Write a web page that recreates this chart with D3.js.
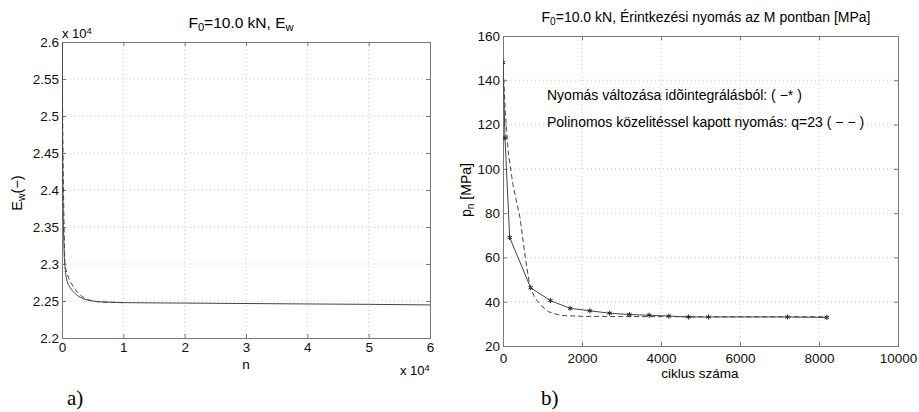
<!DOCTYPE html>
<html>
<head>
<meta charset="utf-8">
<script src="https://cdn.jsdelivr.net/npm/d3@7"></script>
<style>
  body { margin: 0; background: #fff; }
  svg { font-family: "Liberation Sans", Arial, sans-serif; }
</style>
</head>
<body>
<svg id="chart" width="919" height="412"></svg>
<script>
// ---- data: panel a) E_w vs n ----
let ewTicksX = [0, 10000, 20000, 30000, 40000, 50000, 60000]
let ewTicksY = [22000, 22500, 23000, 23500, 24000, 24500, 25000, 25500, 26000]
let ewSolidN = [0, 150, 300, 500, 800, 1200, 1800, 2500, 3500, 4600, 6000, 8000, 10000, 20000, 30000, 40000, 50000, 60000]
let ewSolidV = [26200, 24000, 23300, 22950, 22780, 22700, 22630, 22575, 22530, 22505, 22490, 22485, 22478, 22472, 22466, 22460, 22455, 22447]
let ewDashN = [0, 150, 300, 490, 800, 1200, 1800, 2500, 3300, 4200, 5200, 6500, 8000, 10000]
let ewDashV = [26200, 24600, 23700, 23000, 22880, 22790, 22700, 22620, 22560, 22520, 22498, 22485, 22480, 22478]

// ---- data: panel b) p_n vs cycles ----
let pTicksX = [0, 2000, 4000, 6000, 8000, 10000]
let pTicksY = [20, 40, 60, 80, 100, 120, 140, 160]
let pStarC = [0, 50, 170, 700, 1200, 1700, 2200, 2700, 3200, 3700, 4200, 4700, 5200, 7200, 8200]
let pStarV = [148, 114, 69, 46.3, 40.5, 37.0, 35.9, 34.8, 34.2, 33.9, 33.5, 33.1, 33.1, 33.1, 32.9]
let pDashC = [0, 60, 130, 250, 430, 580, 680, 800, 950, 1150, 1450, 2000, 3000, 5000, 8200]
let pDashV = [148, 125, 108, 93, 78, 58, 47, 42, 38.5, 35.5, 33.8, 33.4, 33.3, 33.2, 33.2]

let svg = d3.select("#chart")
let lineCol = "#444"
let boxCol = "#777"
let tickFs = 13.5

function drawPanel(cfg) {
    let X = d3.scaleLinear().domain(cfg.xDomain).range([cfg.x0, cfg.x1])
    let Y = d3.scaleLinear().domain(cfg.yDomain).range([cfg.y1, cfg.y0])
    let g = svg.append("g")

    // grid
    g.selectAll(".gx").data(cfg.xTicks.slice(1, -1)).enter().append("line")
     .attr("x1", d => X(d)).attr("x2", d => X(d))
     .attr("y1", cfg.y0).attr("y2", cfg.y1)
     .attr("stroke", "#bbb").attr("stroke-width", 0.8).attr("stroke-dasharray", "1,3")
    g.selectAll(".gy").data(cfg.yTicks.slice(1, -1)).enter().append("line")
     .attr("y1", d => Y(d)).attr("y2", d => Y(d))
     .attr("x1", cfg.x0).attr("x2", cfg.x1)
     .attr("stroke", "#bbb").attr("stroke-width", 0.8).attr("stroke-dasharray", "1,3")

    // axes (ticks inward, mirrored)
    g.append("g").attr("transform", `translate(0,${cfg.y1})`)
     .call(d3.axisBottom(X).tickValues(cfg.xTicks).tickSize(-4).tickPadding(cfg.padX).tickFormat(cfg.fmtX))
    g.append("g").attr("transform", `translate(0,${cfg.y0})`)
     .call(d3.axisTop(X).tickValues(cfg.xTicks).tickSize(-4).tickFormat(""))
    g.append("g").attr("transform", `translate(${cfg.x0},0)`)
     .call(d3.axisLeft(Y).tickValues(cfg.yTicks).tickSize(-4).tickPadding(3).tickFormat(cfg.fmtY))
    g.append("g").attr("transform", `translate(${cfg.x1},0)`)
     .call(d3.axisRight(Y).tickValues(cfg.yTicks).tickSize(-4).tickFormat(""))
    g.selectAll(".domain").attr("stroke", boxCol)
    g.selectAll(".tick line").attr("stroke", boxCol)
    g.selectAll(".tick text").attr("fill", "#111").style("font-size", tickFs + "px")
     .style("font-family", "'Liberation Sans', Arial, sans-serif")

    // clip
    let clipId = "clip" + cfg.id
    svg.append("clipPath").attr("id", clipId).append("rect")
       .attr("x", cfg.x0).attr("y", cfg.y0).attr("width", cfg.x1 - cfg.x0).attr("height", cfg.y1 - cfg.y0)
    let plot = g.append("g").attr("clip-path", `url(#${clipId})`)
    let line = d3.line().x(d => X(d[0])).y(d => Y(d[1])).curve(cfg.curve || d3.curveLinear)
    cfg.series.forEach(s => {
        plot.append("path")
            .attr("d", line(s.data))
            .attr("fill", "none")
            .attr("stroke", lineCol)
            .attr("stroke-width", 1)
            .attr("stroke-dasharray", s.dash ? "5,3" : null)
        if (s.stars) {
            plot.selectAll(null).data(s.data).enter().append("path")
                .attr("transform", d => `translate(${X(d[0])},${Y(d[1])})`)
                .attr("d", d3.symbol(d3.symbolAsterisk, 18))
                .attr("fill", "none").attr("stroke", "#222").attr("stroke-width", 1)
        }
    })
    return {X, Y}
}

let zip = (a, b) => a.map((d, i) => [d, b[i]])

// ---- panel a) ----
drawPanel({
    id: "a", x0: 62, x1: 430, y0: 42, y1: 338, padX: 4,
    xDomain: [0, 60000], yDomain: [22000, 26000],
    xTicks: ewTicksX, yTicks: ewTicksY,
    fmtX: d => d / 10000, fmtY: d => d / 10000,
    curve: d3.curveMonotoneX,
    series: [
        {data: zip(ewSolidN, ewSolidV)},
        {data: zip(ewDashN, ewDashV), dash: true}
    ]
})

// ---- panel b) ----
drawPanel({
    id: "b", x0: 503, x1: 898, y0: 36, y1: 346, padX: 7,
    xDomain: [0, 10000], yDomain: [20, 160],
    xTicks: pTicksX, yTicks: pTicksY,
    fmtX: d => d, fmtY: d => d,
    series: [
        {data: zip(pStarC, pStarV), stars: true},
        {data: zip(pDashC, pDashV), dash: true}
    ]
})

// ---- texts ----
function sub(t, parts, fs) {
    t.style("font-size", fs + "px")
    parts.forEach(p => {
        let ts = t.append("tspan").text(p.t)
        if (p.sub) ts.attr("baseline-shift", "-30%").style("font-size", (fs * 0.72) + "px")
        if (p.sup) ts.attr("baseline-shift", "45%").style("font-size", (fs * 0.72) + "px")
    })
    return t
}

sub(svg.append("text").attr("x", 241).attr("y", 28).attr("text-anchor", "middle"),
    [{t: "F"}, {t: "0", sub: true}, {t: "=10.0 kN, E"}, {t: "w", sub: true}], 15.5)
sub(svg.append("text").attr("x", 706).attr("y", 22).attr("text-anchor", "middle"),
    [{t: "F"}, {t: "0", sub: true}, {t: "=10.0 kN, Érintkezési nyomás az M pontban [MPa]"}], 14)

// exponent labels
sub(svg.append("text").attr("x", 62).attr("y", 38),
    [{t: "x 10"}, {t: "4", sup: true}], 13)
sub(svg.append("text").attr("x", 400).attr("y", 375),
    [{t: "x 10"}, {t: "4", sup: true}], 13)

// axis titles
svg.append("text").attr("x", 246).attr("y", 369).attr("text-anchor", "middle").style("font-size", "13.5px").text("n")
svg.append("text").attr("x", 700).attr("y", 378).attr("text-anchor", "middle").style("font-size", "13.5px").text("ciklus száma")
sub(svg.append("text").attr("transform", "translate(22,193) rotate(-90)").attr("text-anchor", "middle"),
    [{t: "E"}, {t: "w", sub: true}, {t: "(−)"}], 14.5)
sub(svg.append("text").attr("transform", "translate(471,190) rotate(-90)").attr("text-anchor", "middle"),
    [{t: "p"}, {t: "n", sub: true}, {t: " [MPa]"}], 14)

// annotations
svg.append("text").attr("x", 547).attr("y", 100).style("font-size", "14px").text("Nyomás változása idõintegrálásból: ( −* )")
svg.append("text").attr("x", 547).attr("y", 127).style("font-size", "14px").text("Polinomos közelitéssel kapott nyomás: q=23 ( − − )")

// panel labels
svg.append("text").attr("x", 67).attr("y", 405).style("font-family", "'Liberation Serif', 'Times New Roman', serif").style("font-size", "21px").text("a)")
svg.append("text").attr("x", 541).attr("y", 405).style("font-family", "'Liberation Serif', 'Times New Roman', serif").style("font-size", "21px").text("b)")
</script>
</body>
</html>
